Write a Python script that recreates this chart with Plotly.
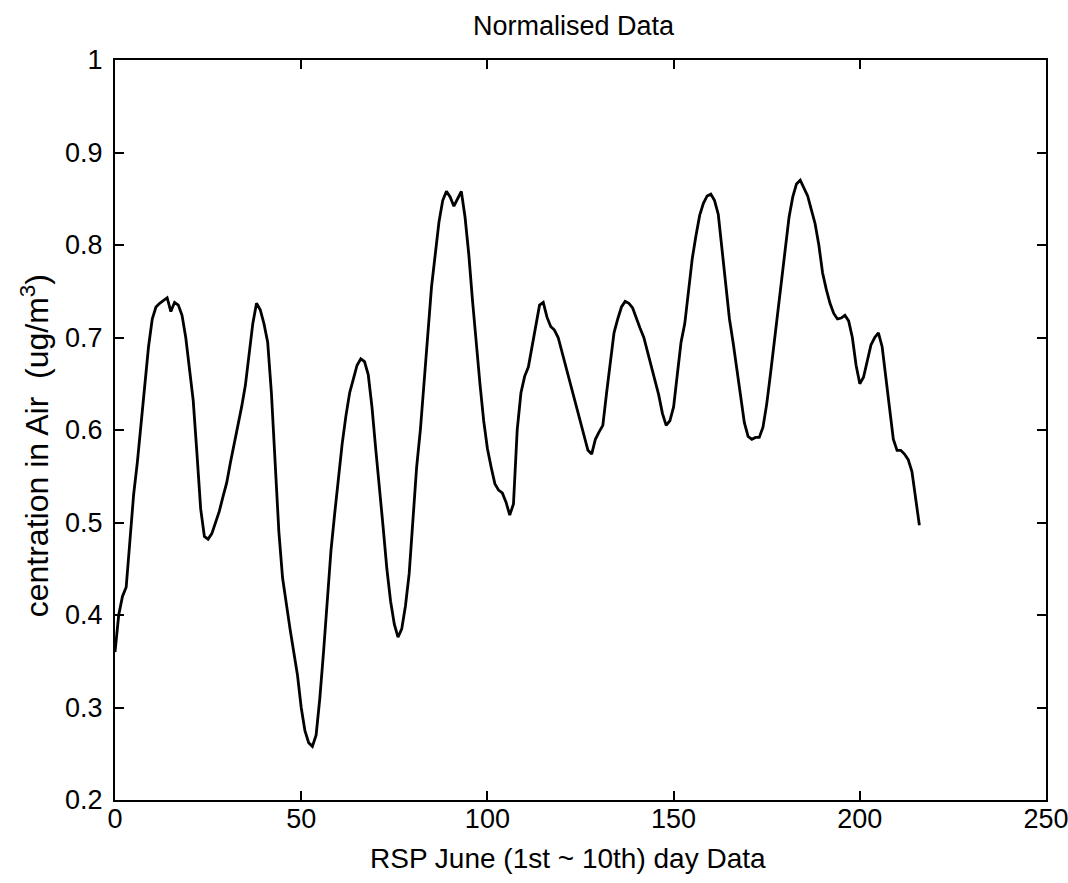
import plotly.graph_objects as go

hours = list(range(0, 217))
conc = [
    0.36, 0.40, 0.42, 0.43, 0.48, 0.53, 0.565, 0.605, 0.645, 0.69,
    0.72, 0.733, 0.737, 0.740, 0.743, 0.728, 0.738, 0.735, 0.724, 0.70,
    0.665, 0.632, 0.575, 0.515, 0.485, 0.482, 0.488, 0.50, 0.512, 0.528,
    0.543, 0.565, 0.585, 0.603, 0.625, 0.648, 0.685, 0.715, 0.737, 0.73,
    0.715, 0.695, 0.64, 0.57, 0.49, 0.44, 0.41, 0.385, 0.36, 0.335,
    0.30, 0.275, 0.262, 0.258, 0.27, 0.31, 0.36, 0.42, 0.47, 0.51,
    0.55, 0.585, 0.615, 0.64, 0.655, 0.67, 0.677, 0.674, 0.66, 0.625,
    0.58, 0.54, 0.495, 0.45, 0.415, 0.39, 0.376, 0.385, 0.41, 0.445,
    0.50, 0.56, 0.60, 0.655, 0.70, 0.755, 0.79, 0.825, 0.848, 0.858,
    0.852, 0.842, 0.85, 0.858, 0.83, 0.79, 0.74, 0.69, 0.65, 0.61,
    0.58, 0.56, 0.542, 0.535, 0.532, 0.522, 0.508, 0.52, 0.60, 0.64,
    0.658, 0.668, 0.69, 0.71, 0.735, 0.738, 0.722, 0.712, 0.708, 0.70,
    0.685, 0.668, 0.656, 0.64, 0.625, 0.608, 0.595, 0.578, 0.574, 0.59,
    0.598, 0.605, 0.64, 0.675, 0.705, 0.72, 0.733, 0.739, 0.737, 0.732,
    0.72, 0.71, 0.70, 0.685, 0.668, 0.655, 0.638, 0.618, 0.605, 0.61,
    0.625, 0.66, 0.695, 0.715, 0.75, 0.785, 0.81, 0.832, 0.845, 0.853,
    0.855, 0.848, 0.833, 0.795, 0.758, 0.72, 0.694, 0.665, 0.632, 0.608,
    0.593, 0.59, 0.592, 0.592, 0.603, 0.628, 0.66, 0.695, 0.728, 0.76,
    0.80, 0.83, 0.852, 0.866, 0.870, 0.862, 0.853, 0.838, 0.823, 0.80,
    0.77, 0.752, 0.737, 0.726, 0.72, 0.721, 0.724, 0.718, 0.70, 0.67,
    0.65, 0.657, 0.675, 0.692, 0.70, 0.705, 0.69, 0.655, 0.62, 0.59,
    0.578, 0.578, 0.574, 0.568, 0.555, 0.525, 0.497,
]

x_ticks = [0, 50, 100, 150, 200, 250]
y_ticks = [0.2, 0.3, 0.4, 0.5, 0.6, 0.7, 0.8, 0.9, 1.0]
y_tick_text = ["0.2", "0.3", "0.4", "0.5", "0.6", "0.7", "0.8", "0.9", "1"]

title_text = "Normalised Data"
x_label = "RSP June (1st ~ 10th) day Data"
y_label = "centration in Air\u00a0\u00a0(ug/m<sup>3</sup>)"

font_family = "Liberation Sans, Arial, sans-serif"

fig = go.Figure()
fig.add_trace(go.Scatter(
    x=hours, y=conc, mode="lines",
    line=dict(color="black", width=2.8),
    showlegend=False, hoverinfo="skip",
))

axis_common = dict(
    showgrid=False, zeroline=False, automargin=False,
    ticklabeloverflow="allow",
    showline=True, linecolor="black", linewidth=2, mirror="ticks",
    ticks="inside", ticklen=9, tickwidth=1.5, tickcolor="black",
    tickfont=dict(family=font_family, size=27, color="black"),
)

fig.update_layout(
    width=1068, height=883,
    margin=dict(l=115, r=22, t=60, b=83),
    paper_bgcolor="white", plot_bgcolor="white",
    xaxis=dict(range=[0, 250], tickvals=x_ticks, ticklabelstandoff=-6, **axis_common),
    yaxis=dict(range=[0.2, 1.0], tickvals=y_ticks, ticktext=y_tick_text,
               ticklabelstandoff=5, **axis_common),
    annotations=[
        dict(text=title_text, xref="paper", yref="paper", x=0.493, y=1.0,
             yshift=34, showarrow=False, xanchor="center", yanchor="middle",
             font=dict(family=font_family, size=27, color="black")),
        dict(text=x_label, xref="paper", yref="paper", x=0.487, y=0.0,
             yshift=-58, showarrow=False, xanchor="center", yanchor="middle",
             font=dict(family=font_family, size=28, color="black")),
        dict(text=y_label, xref="paper", yref="paper", x=0.0, y=0.478,
             xshift=-80, showarrow=False, xanchor="center", yanchor="middle",
             textangle=-90,
             font=dict(family=font_family, size=32, color="black")),
    ],
)

fig.write_html("out.html")
